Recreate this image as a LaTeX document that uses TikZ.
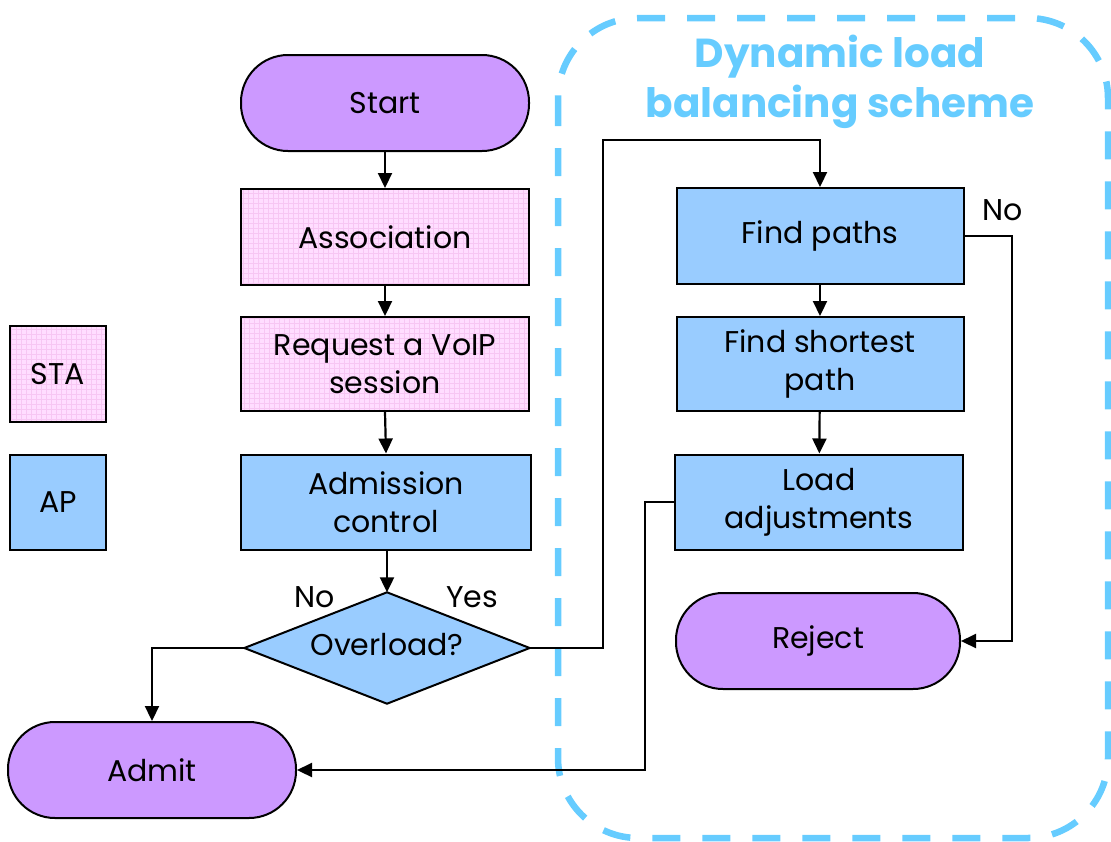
\documentclass[tikz,border=0pt]{standalone}
\usepackage{fontspec}
\setmainfont{Poppins}
\usetikzlibrary{arrows.meta,positioning}
\definecolor{purp}{HTML}{CC99FF}
\definecolor{pinkbg}{HTML}{FFDDFF}
\definecolor{pinkgrid}{HTML}{F7C6F3}
\definecolor{apblue}{HTML}{99CCFF}
\definecolor{dynblue}{HTML}{66CCFF}
\tikzset{
  base/.style={draw=black, line width=2pt, inner sep=0pt, align=center,
    font=\fontsize{30}{38}\selectfont},
  term/.style={base, fill=purp, rounded corners=47pt, minimum width=288pt, minimum height=96pt},
  stabox/.style={base, fill=pinkbg, minimum width=288pt, minimum height=96pt,
    path picture={\draw[pinkgrid, line width=0.35pt, step=5pt]
      (path picture bounding box.south west) grid (path picture bounding box.north east);}},
  apbox/.style={base, fill=apblue, minimum width=288pt, minimum height=96pt},
  conn/.style={line width=2.2pt, -{Triangle[length=15pt,width=14pt]}},
  lbl/.style={font=\fontsize{30}{36}\selectfont, inner sep=0pt},
}
\begin{document}
\begin{tikzpicture}[x=1pt,y=-1pt]
\useasboundingbox (0,0) rectangle (1111,841);
% dashed region
\draw[dynblue, line width=6.5pt, dash pattern=on 28pt off 22pt, rounded corners=80pt]
  (558,18) rectangle (1108,838);
\node[font=\fontsize{40.5}{50}\selectfont\bfseries, text=dynblue, align=center, inner sep=0pt] (title) at (840,82)
  {Dynamic load\\balancing scheme};

% left column
\node[term] (start) at (385,103) {Start};
\node[stabox] (assoc) at (385,237) {Association};
\node[stabox, minimum height=94pt] (req) at (385,364) {Request a VoIP\\session};
\node[apbox, minimum width=290pt, minimum height=95pt] (adm) at (386,502) {Admission\\control};
\node[minimum width=285pt, minimum height=111pt, inner sep=0pt] (ov) at (387,648) {};
\draw[line width=2pt, fill=apblue] (ov.west) -- (ov.north) -- (ov.east) -- (ov.south) -- cycle;
\node[lbl] (ovt) at (387,645) {Overload?};
\node[term] (admit) at (152,770) {Admit};

% legend
\node[stabox, minimum width=96pt, minimum height=96pt] (sta) at (58,374) {STA};
\node[apbox, minimum width=96pt, minimum height=95pt] (ap) at (58,502) {AP};

% right column
\node[apbox, minimum width=287pt] (fp) at (820,236) {Find paths};
\node[apbox, minimum width=287pt, minimum height=94pt] (fsp) at (820,364) {Find shortest\\path};
\node[apbox, minimum width=288pt, minimum height=95pt] (la) at (819,502) {Load\\adjustments};
\node[term, minimum width=284pt] (rej) at (818,641) {Reject};

% connectors
\draw[conn] (start) -- (assoc);
\draw[conn] (assoc) -- (req);
\draw[conn] (req.south) -- (adm.north);
\draw[conn] (adm.south -| ov.north) -- (ov.north);
\draw[conn] (ov.west) -| (admit.north);
\coordinate (yr) at (603,140);
\draw[conn] (ov.east) -| (yr) -| (fp.north);
\draw[conn] (fp) -- (fsp);
\draw[conn] (fsp) -- (la);
\coordinate (nr) at (1012,236);
\draw[conn] (fp.east) -- (nr) |- (rej.east);
\coordinate (lr) at (645,502);
\draw[conn] (la.west) -- (lr) |- (admit.east);

% labels
\node[lbl] (no1) at (315,597) {No};
\node[lbl] (yes) at (472,597) {Yes};
\node[lbl] (no2) at (1003,210) {No};
\end{tikzpicture}
\end{document}
